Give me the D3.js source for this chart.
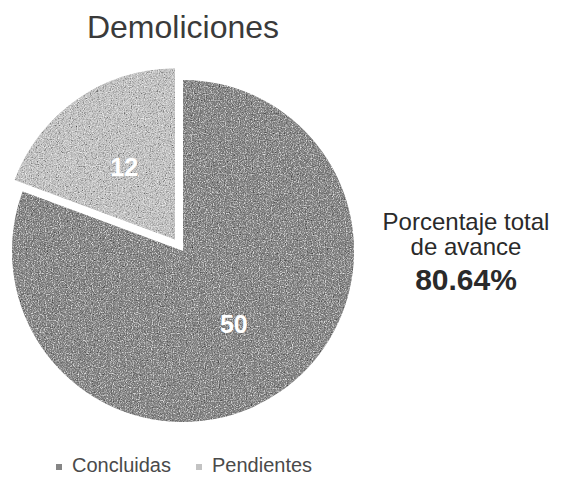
<!DOCTYPE html>
<html>
<head>
<meta charset="utf-8">
<script src="https://cdn.jsdelivr.net/npm/d3@7"></script>
<style>
  body { margin: 0; background: #fff; }
  text { font-family: "Liberation Sans", Arial, sans-serif; }
</style>
</head>
<body>
<div id="chart"></div>
<script>
// Data
const categories = ["Concluidas", "Pendientes"];
const values = [50, 12];
const title = "Demoliciones";
const summaryLines = ["Porcentaje total", "de avance"];
const summaryValue = ["80.64%"];

const sliceColors = ["#868686", "#c3c3c3"];
const explode = [0, 14];

const width = 561, height = 481;
const cx = 183, cy = 251, radius = 171;

const svg = d3.select("#chart")
  .append("svg")
  .attr("width", width)
  .attr("height", height);

// grainy scan look: contrasty grey noise overlaid on the fill
const grain = svg.append("defs").append("filter").attr("id", "grain")
  .attr("x", 0).attr("y", 0).attr("width", 1).attr("height", 1);
grain.append("feTurbulence")
  .attr("type", "fractalNoise")
  .attr("baseFrequency", 0.85)
  .attr("numOctaves", 2)
  .attr("seed", 7)
  .attr("result", "noise");
grain.append("feColorMatrix")
  .attr("in", "noise")
  .attr("type", "saturate")
  .attr("values", 0)
  .attr("result", "grey");
const ct = grain.append("feComponentTransfer").attr("in", "grey").attr("result", "hard");
["feFuncR", "feFuncG", "feFuncB"].forEach(f =>
  ct.append(f).attr("type", "linear").attr("slope", 2.6).attr("intercept", -0.8));
grain.append("feComposite")
  .attr("in", "hard").attr("in2", "SourceGraphic")
  .attr("operator", "in")
  .attr("result", "clip");
grain.append("feBlend")
  .attr("in", "SourceGraphic").attr("in2", "clip")
  .attr("mode", "overlay");

// Title
svg.append("text")
  .attr("x", 183)
  .attr("y", 38)
  .attr("text-anchor", "middle")
  .attr("font-size", 32)
  .attr("fill", "#3a3a3a")
  .text(title);

// Pie
const pie = d3.pie().sort(null).value(d => d)(values);
const arc = d3.arc().innerRadius(0).outerRadius(radius);
const labelArc = d3.arc().innerRadius(radius * 0.52).outerRadius(radius * 0.52);

const g = svg.append("g").attr("transform", `translate(${cx},${cy})`);

const slice = g.selectAll(".slice")
  .data(pie)
  .enter()
  .append("g")
  .attr("class", "slice")
  .attr("transform", (d, i) => {
    const mid = (d.startAngle + d.endAngle) / 2;
    return `translate(${Math.sin(mid) * explode[i]},${-Math.cos(mid) * explode[i]})`;
  });

slice.append("path")
  .attr("d", arc)
  .attr("fill", (d, i) => sliceColors[i])
  .attr("filter", "url(#grain)");

slice.append("text")
  .attr("transform", d => `translate(${labelArc.centroid(d)})`)
  .attr("text-anchor", "middle")
  .attr("dy", "0.36em")
  .attr("font-size", 25)
  .attr("font-weight", "bold")
  .attr("fill", "#fff")
  .text(d => d.data);

// Summary text on the right
svg.append("g")
  .selectAll("text")
  .data(summaryLines)
  .enter()
  .append("text")
  .attr("x", 466)
  .attr("y", (d, i) => 230 + i * 25)
  .attr("text-anchor", "middle")
  .attr("font-size", 24)
  .attr("fill", "#2a2a2a")
  .text(d => d);

svg.append("text")
  .attr("x", 466)
  .attr("y", 290)
  .attr("text-anchor", "middle")
  .attr("font-size", 30)
  .attr("font-weight", "bold")
  .attr("fill", "#2a2a2a")
  .text(summaryValue[0]);

// Legend
const legendX = [56, 196];
const legend = svg.append("g")
  .selectAll("g")
  .data(categories)
  .enter()
  .append("g")
  .attr("transform", (d, i) => `translate(${legendX[i]},472)`);

legend.append("rect")
  .attr("x", 0)
  .attr("y", -8)
  .attr("width", 6)
  .attr("height", 6)
  .attr("fill", (d, i) => sliceColors[i]);

legend.append("text")
  .attr("x", 16)
  .attr("y", 0)
  .attr("font-size", 20)
  .attr("fill", "#4a4a4a")
  .text(d => d);
</script>
</body>
</html>
